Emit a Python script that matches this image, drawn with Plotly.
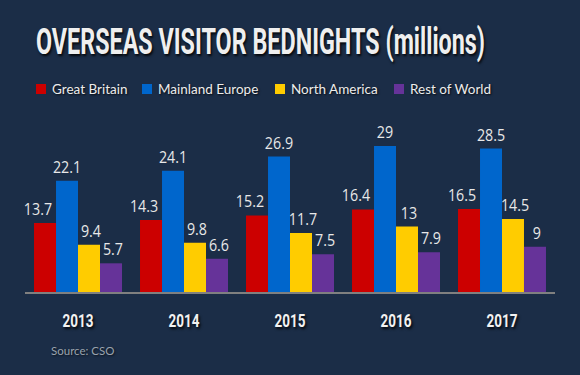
import plotly.graph_objects as go

years = ["2013", "2014", "2015", "2016", "2017"]
series_names = ["Great Britain", "Mainland Europe", "North America", "Rest of World"]
great_britain = [13.7, 14.3, 15.2, 16.4, 16.5]
mainland_europe = [22.1, 24.1, 26.9, 29, 28.5]
north_america = [9.4, 9.8, 11.7, 13, 14.5]
rest_of_world = [5.7, 6.6, 7.5, 7.9, 9]
series_values = [great_britain, mainland_europe, north_america, rest_of_world]
colors = ["#cc0000", "#0066cc", "#ffcc00", "#663399"]
label_dx = [-7, 0, 2, 2]

BG = "#1b2d47"
W, H = 580, 375
ML, MR, MT, MB = 25, 25, 141, 83
shadow = "2px 2px 3px rgba(0,0,0,0.85)"
BOLD = "Roboto, DejaVu Sans, sans-serif"

fig = go.Figure()
for name, vals, col in zip(series_names, series_values, colors):
    fig.add_trace(go.Bar(
        x=years, y=vals, name=name, marker=dict(color=col, line=dict(width=0)),
        text=[f"{v:g}" for v in vals], textposition="outside", constraintext="none",
        textfont=dict(family="Open Sans", size=15.5, color="#e8e8e8"),
        cliponaxis=False, showlegend=False,
    ))

# manual legend
def px_to_paper(px, py):
    return (px - ML) / (W - ML - MR), (H - MB - py) / (H - MT - MB)

legend_x = [36, 142, 275, 394]
legend_y = 89
shapes = []
annotations = []
for name, col, lx in zip(series_names, colors, legend_x):
    x0, y0 = px_to_paper(lx, legend_y + 5)
    x1, y1 = px_to_paper(lx + 10, legend_y - 5)
    shapes.append(dict(type="rect", xref="paper", yref="paper", x0=x0, x1=x1, y0=y0, y1=y1,
                       fillcolor=col, line=dict(width=0)))
    tx, ty = px_to_paper(lx + 14, legend_y)
    annotations.append(dict(xref="paper", yref="paper", x=tx, y=ty, xanchor="left", yanchor="middle",
                            text=name, showarrow=False,
                            font=dict(family="Lato", size=13.5, color="#ececec",
                                      shadow="1px 1px 2px rgba(0,0,0,0.8)")))

sx, sy = px_to_paper(49, 350)
annotations.append(dict(xref="paper", yref="paper", x=sx, y=sy, xanchor="left", yanchor="middle",
                        text="Source: CSO", showarrow=False,
                        font=dict(family="Lato", size=11.5, color="#9aa3ad",
                                  shadow="1px 1px 2px rgba(0,0,0,0.6)")))

fig.update_layout(
    width=W, height=H,
    paper_bgcolor=BG, plot_bgcolor=BG,
    margin=dict(l=ML, r=MR, t=MT, b=MB),
    barmode="group", bargap=0.17, bargroupgap=0,
    title=dict(text="OVERSEAS VISITOR BEDNIGHTS (millions)", xref="container", yref="container",
               x=36 / W, xanchor="left", y=1 - 41 / H, yanchor="middle",
               font=dict(family=BOLD, size=37, color="#efefef", weight="bold",
                         shadow=shadow)),
    xaxis=dict(showgrid=False, showline=True, linecolor="#808080", linewidth=2,
               ticks="", ticklabelstandoff=11,
               tickfont=dict(family=BOLD, size=18, color="#f2f2f2", weight="bold",
                             shadow=shadow)),
    yaxis=dict(range=[0, 30], visible=False, showgrid=False, zeroline=False),
    shapes=shapes, annotations=annotations,
    showlegend=False,
)

post = (
    "document.body.style.margin='0';"
    "document.body.style.background='" + BG + "';"
    "var t=document.querySelector('.gtitle');"
    "if(t){t.setAttribute('textLength','449');t.setAttribute('lengthAdjust','spacingAndGlyphs');}"
    "document.querySelectorAll('.xtick text').forEach(function(e){"
    "e.setAttribute('textLength','31');e.setAttribute('lengthAdjust','spacingAndGlyphs');});"
    "var dxs=" + str(label_dx) + ";"
    "document.querySelectorAll('.barlayer .trace').forEach(function(tr,i){"
    "tr.querySelectorAll('text.bartext').forEach(function(e){"
    "var L=e.getComputedTextLength();"
    "e.setAttribute('textLength',String(L*0.92));e.setAttribute('lengthAdjust','spacingAndGlyphs');"
    "e.setAttribute('dx',String(dxs[i]||0));});});"
)

fig.write_html("out.html", config={"displayModeBar": False}, post_script=post)
